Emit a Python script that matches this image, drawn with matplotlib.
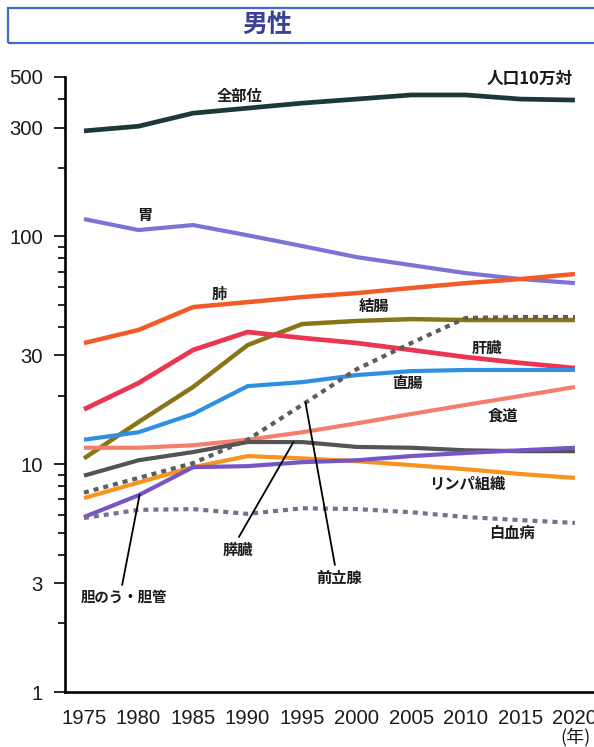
import matplotlib
matplotlib.use("Agg")
import matplotlib.pyplot as plt
import numpy as np
from matplotlib.patches import Rectangle
from matplotlib.ticker import FixedLocator, NullFormatter, FixedFormatter
from matplotlib import font_manager

plt.rcParams['font.family'] = ['Noto Sans CJK JP', 'DejaVu Sans']

years = [1975, 1980, 1985, 1990, 1995, 2000, 2005, 2010, 2015, 2020]

all_sites = [290, 304, 347, 365, 384, 400, 417, 417, 400, 396]
stomach = [119, 106.5, 112, 101, 90.6, 81, 74.7, 68.9, 64.9, 62.3]
lung = [34.0, 38.8, 48.9, 51.4, 54.1, 56.3, 59.3, 62.3, 64.9, 68.3]
colon = [10.6, 15.3, 21.8, 33.3, 41.2, 42.5, 43.3, 42.9, 42.9, 42.9]
prostate = [7.5, 8.7, 10.1, 12.8, 18.2, 26.1, 34.0, 43.8, 44.2, 44.2]
liver = [17.4, 22.7, 31.7, 38.0, 35.8, 34.0, 31.7, 29.5, 27.8, 26.4]
rectum = [12.8, 13.8, 16.6, 22.0, 22.9, 24.6, 25.6, 25.9, 25.9, 25.9]
esophagus = [11.8, 11.8, 12.1, 12.8, 13.8, 15.1, 16.6, 18.2, 19.9, 21.8]
pancreas = [8.9, 10.4, 11.3, 12.5, 12.5, 11.9, 11.8, 11.5, 11.4, 11.4]
lymph = [7.1, 8.3, 9.7, 10.85, 10.6, 10.3, 9.9, 9.5, 9.05, 8.7]
gallbladder = [5.86, 7.3, 9.7, 9.8, 10.2, 10.4, 10.85, 11.2, 11.5, 11.8]
leukemia = [5.8, 6.3, 6.35, 6.05, 6.4, 6.35, 6.15, 5.86, 5.68, 5.52]

major_ticks = [1, 3, 10, 30, 100, 300, 500]
major_labels = ['1', '3', '10', '30', '100', '300', '500']
minor_ticks = [2, 4, 5, 6, 7, 8, 9, 20, 40, 50, 60, 70, 80, 90, 200, 400]
xtick_labels = [str(y) for y in years]

series = [
    ("全部位", all_sites, '#1d3838', '-', 3.4),
    ("胃", stomach, '#7b74d6', '-', 3.0),
    ("肺", lung, '#f25a26', '-', 3.2),
    ("結腸", colon, '#8a7419', '-', 3.2),
    ("肝臓", liver, '#ec3550', '-', 3.4),
    ("直腸", rectum, '#2f8fe3', '-', 3.0),
    ("食道", esophagus, '#f47e6c', '-', 3.0),
    ("膵臓", pancreas, '#545454', '-', 3.0),
    ("リンパ組織", lymph, '#f7931e', '-', 3.0),
    ("胆のう・胆管", gallbladder, '#7656c6', '-', 3.0),
    ("前立腺", prostate, '#5c5c5c', (0, (1.2, 1.2)), 3.0),
    ("白血病", leukemia, '#7a6d8d', (0, (1.2, 1.2)), 3.0),
]

# pick a narrow font for numbers if one is installed
available = {f.name for f in font_manager.fontManager.ttflist}
if 'Liberation Sans Narrow' in available:
    tickfont, ticksize = 'Liberation Sans Narrow', 16.4
elif 'DejaVu Sans Condensed' in available:
    tickfont, ticksize = 'DejaVu Sans Condensed', 14.5
else:
    tickfont, ticksize = 'Liberation Sans', 14.6

fig = plt.figure(figsize=(5.94, 7.47), dpi=100)
fig.patch.set_facecolor('white')

# title box
fig.patches.append(Rectangle((8 / 594, (747 - 43) / 747), 1.2, 35 / 747,
                             transform=fig.transFigure, fill=False,
                             edgecolor='#3f6cc8', linewidth=1.6))
fig.text(267.5 / 594, (747 - 25) / 747, "男性", ha='center', va='center',
         fontsize=18, fontweight='bold', color='#3b4195')

ax = fig.add_axes([65 / 594, 55 / 747, 540 / 594, 615 / 747])
ax.set_yscale('log')
ax.set_ylim(1, 500)
ax.set_xlim(1973.26, 2021.75 + 11 / 10.91)

for name, vals, color, ls, lw in series:
    ax.plot(years, vals, color=color, linestyle=ls, linewidth=lw,
            solid_capstyle='butt', dash_capstyle='butt', zorder=3)

ax.spines['top'].set_visible(False)
ax.spines['right'].set_visible(False)
ax.spines['left'].set_linewidth(1.9)
ax.spines['bottom'].set_linewidth(1.9)

ax.yaxis.set_major_locator(FixedLocator(major_ticks))
ax.yaxis.set_major_formatter(FixedFormatter(major_labels))
ax.yaxis.set_minor_locator(FixedLocator(minor_ticks))
ax.yaxis.set_minor_formatter(NullFormatter())
ax.set_xticks(years)
ax.set_xticklabels(xtick_labels)

for lab in ax.get_xticklabels() + ax.get_yticklabels():
    lab.set_fontfamily([tickfont, 'DejaVu Sans'])
    lab.set_fontsize(ticksize)
    lab.set_color('#1a1a1a')
ax.tick_params(axis='y', which='major', length=8, width=1.2, pad=8, direction='out')
ax.tick_params(axis='y', which='minor', length=5, width=1.2, direction='out')
ax.tick_params(axis='x', length=0, pad=12)

# labels
lab_kw = dict(fontsize=11, fontweight='bold', color='#1a1a1a', ha='center', va='center', zorder=5)
ax.text(1989.3, 412, "全部位", **lab_kw)
ax.text(1980.6, 124, "胃", **lab_kw)
ax.text(1987.4, 55.8, "肺", **lab_kw)
ax.text(2001.6, 49.4, "結腸", **lab_kw)
ax.text(2011.9, 32.3, "肝臓", **lab_kw)
ax.text(2004.6, 22.7, "直腸", **lab_kw)
ax.text(2013.4, 16.4, "食道", **lab_kw)
ax.text(2010.1, 8.18, "リンパ組織", **lab_kw)
ax.text(2014.2, 4.99, "白血病", **lab_kw)
ax.text(1998.4, 3.16, "前立腺", **lab_kw)
ax.text(1989.1, 4.20, "膵臓", **lab_kw)
ax.text(1978.7, 2.585, "胆のう・胆管", **dict(lab_kw, fontsize=10.4))
ax.text(2019.8, 490, "人口10万対", fontsize=12, fontweight='bold', color='#1a1a1a',
        ha='right', va='center')

# leader lines
lkw = dict(arrowprops=dict(arrowstyle='-', color='black', lw=1.3, shrinkA=0, shrinkB=0))
ax.annotate("", xy=(1994.2, np.interp(1994.2, years, pancreas)), xytext=(1989.2, 4.79), **lkw)
ax.annotate("", xy=(1995.3, np.interp(1995.3, years, prostate)), xytext=(1998.0, 3.61), **lkw)
ax.annotate("", xy=(1980.1, np.interp(1980.1, years, gallbladder)), xytext=(1978.5, 2.95), **lkw)

fig.text(576 / 594, (747 - 737) / 747, "(年)", ha='center', va='center', fontsize=13,
         color='#1a1a1a')

fig.savefig("out.png", dpi=100, facecolor='white')
